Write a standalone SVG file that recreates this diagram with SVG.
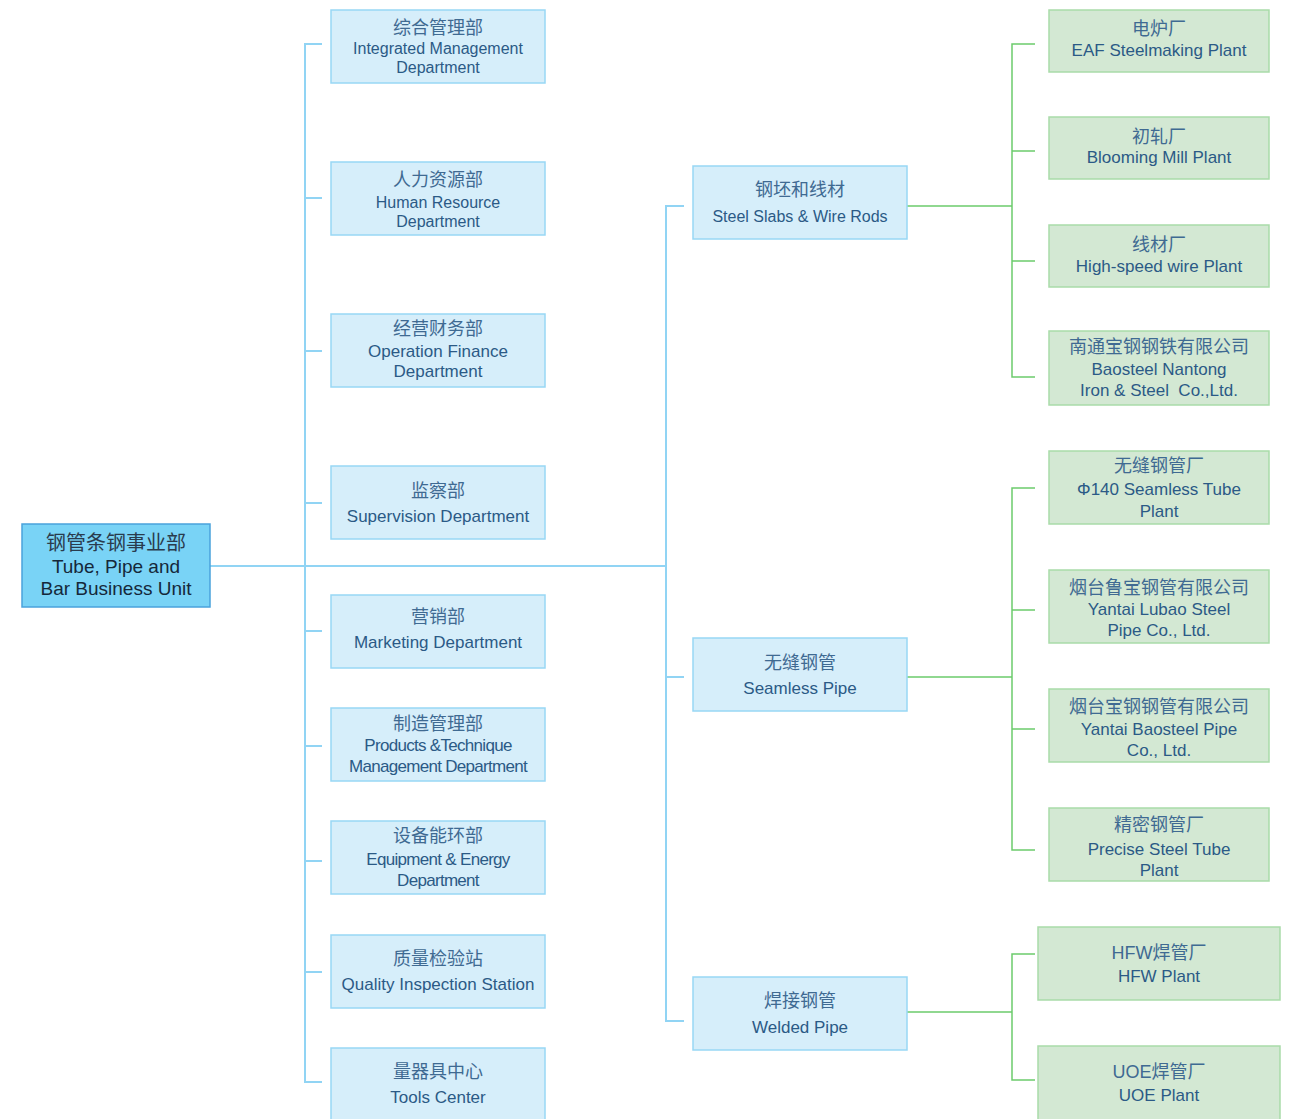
<svg xmlns="http://www.w3.org/2000/svg" width="1293" height="1119" viewBox="0 0 1293 1119">
<style>
.bb{fill:#d6eefa;stroke:#98d7f5;stroke-width:1.5}
.gb{fill:#d3e8d3;stroke:#a9dba9;stroke-width:1.5}
.rb{fill:#79d3f6;stroke:#4aa2dc;stroke-width:1.5}
text{font-family:"Liberation Sans","Noto Sans CJK SC",Arial,sans-serif;fill:#2b5a86;text-anchor:middle;dominant-baseline:central}
.cn{font-size:18px;fill:#3f6a92}
.en{font-size:17px}
.e16{font-size:16px}
.cd{font-size:17px;letter-spacing:-0.7px}
.rt{fill:#15283a;font-size:19px}
.rc{fill:#2a3c4e;font-size:20px}
.cb{fill:none;stroke:#91d4f4;stroke-width:2}
.cg{fill:none;stroke:#6ccb6c;stroke-width:1.5}
</style>
<g id="connectors">
<path class="cb" d="M210 566H666M322 44H305V1082H322M305 198H322M305 351H322M305 503H322M305 631H322M305 746H322M305 861H322M305 972H322"/>
<path class="cb" d="M684 206H666V1021H684M666 677H684"/>
<path class="cg" d="M907 206H1012M1035 44H1012V377H1035M1012 151H1035M1012 261H1035"/>
<path class="cg" d="M907 677H1012M1035 488H1012V850H1035M1012 610H1035M1012 729H1035"/>
<path class="cg" d="M907 1012H1012M1035 954H1012V1080H1035"/>
</g>
<g id="root"><rect class="rb" x="22" y="524" width="188" height="83"/><text class="rc" x="116" y="543">钢管条钢事业部</text><text class="rt" x="116" y="566">Tube, Pipe and</text><text class="rt" x="116" y="588">Bar Business Unit</text></g>
<g id="n1"><rect class="bb" x="331" y="10" width="214" height="73"/><text class="cn" x="438" y="28">综合管理部</text><text class="e16" x="438" y="48">Integrated Management</text><text class="e16" x="438" y="67">Department</text></g>
<g id="n2"><rect class="bb" x="331" y="162" width="214" height="73"/><text class="cn" x="438" y="180">人力资源部</text><text class="e16" x="438" y="202">Human Resource</text><text class="e16" x="438" y="221">Department</text></g>
<g id="n3"><rect class="bb" x="331" y="314" width="214" height="73"/><text class="cn" x="438" y="329">经营财务部</text><text class="en" x="438" y="351">Operation Finance</text><text class="en" x="438" y="371">Department</text></g>
<g id="n4"><rect class="bb" x="331" y="466" width="214" height="73"/><text class="cn" x="438" y="491">监察部</text><text class="en" x="438" y="516">Supervision Department</text></g>
<g id="n5"><rect class="bb" x="331" y="595" width="214" height="73"/><text class="cn" x="438" y="617">营销部</text><text class="en" x="438" y="642">Marketing Department</text></g>
<g id="n6"><rect class="bb" x="331" y="708" width="214" height="73"/><text class="cn" x="438" y="724">制造管理部</text><text class="cd" x="438" y="745">Products &amp;Technique</text><text class="cd" x="438" y="766">Management Department</text></g>
<g id="n7"><rect class="bb" x="331" y="821" width="214" height="73"/><text class="cn" x="438" y="836">设备能环部</text><text class="cd" x="438" y="859">Equipment &amp; Energy</text><text class="cd" x="438" y="880">Department</text></g>
<g id="n8"><rect class="bb" x="331" y="935" width="214" height="73"/><text class="cn" x="438" y="959">质量检验站</text><text class="en" x="438" y="984">Quality Inspection Station</text></g>
<g id="n9"><rect class="bb" x="331" y="1048" width="214" height="80"/><text class="cn" x="438" y="1072">量器具中心</text><text class="en" x="438" y="1097">Tools Center</text></g>
<g id="m1"><rect class="bb" x="693" y="166" width="214" height="73"/><text class="cn" x="800" y="190">钢坯和线材</text><text class="e16" x="800" y="216">Steel Slabs &amp; Wire Rods</text></g>
<g id="m2"><rect class="bb" x="693" y="638" width="214" height="73"/><text class="cn" x="800" y="663">无缝钢管</text><text class="en" x="800" y="688">Seamless Pipe</text></g>
<g id="m3"><rect class="bb" x="693" y="977" width="214" height="73"/><text class="cn" x="800" y="1001">焊接钢管</text><text class="en" x="800" y="1027">Welded Pipe</text></g>
<g id="r1"><rect class="gb" x="1049" y="10" width="220" height="62"/><text class="cn" x="1159" y="29">电炉厂</text><text class="en" x="1159" y="50">EAF Steelmaking Plant</text></g>
<g id="r2"><rect class="gb" x="1049" y="117" width="220" height="62"/><text class="cn" x="1159" y="137">初轧厂</text><text class="en" x="1159" y="157">Blooming Mill Plant</text></g>
<g id="r3"><rect class="gb" x="1049" y="225" width="220" height="62"/><text class="cn" x="1159" y="245">线材厂</text><text class="en" x="1159" y="266">High-speed wire Plant</text></g>
<g id="r4"><rect class="gb" x="1049" y="331" width="220" height="74"/><text class="cn" x="1159" y="347">南通宝钢钢铁有限公司</text><text class="en" x="1159" y="369">Baosteel Nantong</text><text class="en" x="1159" y="390" xml:space="preserve">Iron &amp; Steel  Co.,Ltd.</text></g>
<g id="r5"><rect class="gb" x="1049" y="451" width="220" height="73"/><text class="cn" x="1159" y="466">无缝钢管厂</text><text class="en" x="1159" y="489">Φ140 Seamless Tube</text><text class="en" x="1159" y="511">Plant</text></g>
<g id="r6"><rect class="gb" x="1049" y="570" width="220" height="73"/><text class="cn" x="1159" y="588">烟台鲁宝钢管有限公司</text><text class="en" x="1159" y="609">Yantai Lubao Steel</text><text class="en" x="1159" y="630">Pipe Co., Ltd.</text></g>
<g id="r7"><rect class="gb" x="1049" y="689" width="220" height="73"/><text class="cn" x="1159" y="707">烟台宝钢钢管有限公司</text><text class="en" x="1159" y="729">Yantai Baosteel Pipe</text><text class="en" x="1159" y="750">Co., Ltd.</text></g>
<g id="r8"><rect class="gb" x="1049" y="808" width="220" height="73"/><text class="cn" x="1159" y="825">精密钢管厂</text><text class="en" x="1159" y="849">Precise Steel Tube</text><text class="en" x="1159" y="870">Plant</text></g>
<g id="r9"><rect class="gb" x="1038" y="927" width="242" height="73"/><text class="cn" x="1159" y="953">HFW焊管厂</text><text class="en" x="1159" y="976">HFW Plant</text></g>
<g id="r10"><rect class="gb" x="1038" y="1046" width="242" height="80"/><text class="cn" x="1159" y="1072">UOE焊管厂</text><text class="en" x="1159" y="1095">UOE Plant</text></g>
</svg>
